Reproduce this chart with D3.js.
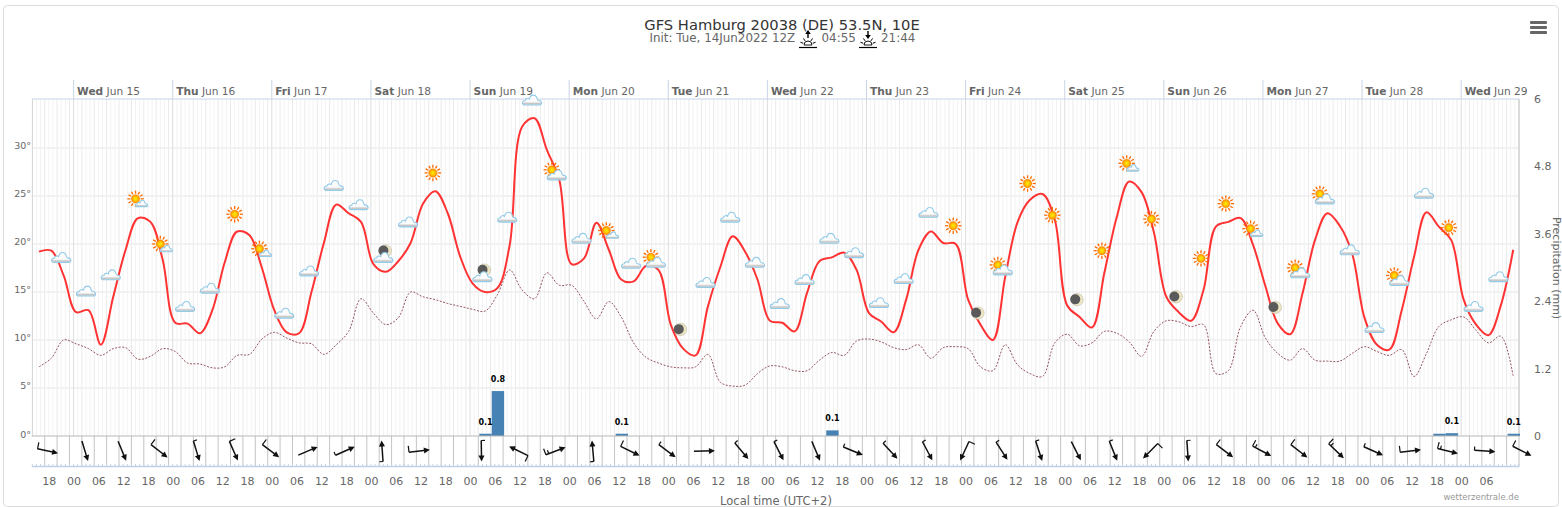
<!DOCTYPE html>
<html>
<head>
<meta charset="utf-8">
<script src="https://cdn.jsdelivr.net/npm/d3@7"></script>
<style>
  html, body { margin: 0; padding: 0; background: #fff; overflow: hidden; }
  text { font-family: "DejaVu Sans", sans-serif; }
</style>
</head>
<body>
<svg id="chart" width="1562" height="507"></svg>
<script>
// Hours are counted from Wed Jun 15 00:00 local time
const firstHour = -8.4;
const stepHours = 3;

const temperature = [
  19.2, 19.3, 16.7, 12.9, 13.1, 9.5, 14.5, 19.4, 22.7, 22.3,
  18.3, 11.8, 11.7, 10.7, 13.1, 18.1, 21.3, 20.9, 17.5, 13.1,
  10.8, 10.7, 15, 20.1, 24.1, 23.2, 22.3, 17.9, 17.1, 18.2,
  20.1, 24.2, 25.5, 23.2, 18.7, 15.9, 15, 15.4, 19.9, 32.2,
  33.1, 29.8, 26.7, 17.9, 18.5, 22.2, 19.4, 16.3, 16.1, 17.7,
  17.3, 11.6, 9.1, 8.4, 13.5, 17.6, 20.8, 19.2, 16.3, 12,
  11.8, 10.9, 14.9, 18.2, 18.6, 19.1, 17.3, 12.8, 11.9, 10.8,
  14.2, 19.4, 21.3, 20.1, 20, 14.2, 11.6, 10, 16.6, 22.3,
  24.6, 25.2, 22.5, 13.6, 12.4, 11.3, 17, 22.8, 26.5, 25.4,
  21.2, 14.5, 12.9, 12, 15.2, 21.8, 22.3, 22.7, 19.9, 15.6,
  11.7, 10.6, 14.9, 20.4, 23.2, 21.9, 19, 12.3, 9.5, 9,
  13.1, 18.7, 23.3, 21.8, 20.4, 14.2, 11.6, 10.5, 13.6, 19.4
];

const dewPoint = [
  7.2, 8.1, 10, 9.6, 9.1, 8.4, 9.1, 9.2, 8, 8.3,
  9.1, 8.8, 7.6, 7.5, 7.1, 7.2, 8.4, 8.5, 10.1, 10.8,
  10.2, 9.7, 9.6, 8.5, 9.5, 10.9, 14.3, 12.8, 11.6, 12.3,
  15, 14.5, 14.2, 13.8, 13.5, 13.2, 13, 14.7, 17.3, 15.2,
  14.3, 17, 15.7, 15.7, 14, 12.2, 14, 12.4, 9.7, 8.2,
  7.6, 7.2, 7.1, 7.2, 8.5, 5.6, 5.2, 5.3, 6.5, 7.3,
  7.2, 6.8, 6.8, 7.9, 8.7, 8.4, 9.9, 10.1, 9.8, 9.2,
  9, 9.5, 8.1, 9.2, 9.3, 9.1, 7.2, 6.8, 9.5, 7.4,
  6.5, 6.2, 9.7, 10.6, 9.4, 9.7, 10.9, 10.7, 9.8, 8.3,
  10.9, 12, 11.9, 11.4, 11.6, 6.5, 6.8, 11.4, 13.1, 10.2,
  8.6, 7.9, 9.1, 7.9, 7.8, 7.8, 8.6, 9.3, 8.8, 8.4,
  9, 6.2, 8.6, 11.4, 12.1, 12.4, 11, 9.7, 10.4, 6.2
];

const precipHours = [99.75, 102.75, 132.75, 183.75, 330.75, 333.75, 348.75];
const precipValues = [0.04, 0.8, 0.04, 0.1, 0.04, 0.05, 0.04];
const precipLabels = ["0.1", "0.8", "0.1", "0.1", "", "0.1", "0.1"];

// Weather symbols, one every 6 hours from hour -3 (index 16 has none)
const iconStartHour = -3;
const iconKinds = [
  "cloud", "cloud", "cloud", "sunS", "sunS", "cloud", "cloud", "sun", "sunS", "cloud",
  "cloud", "cloud", "cloud", "moonCloud", "cloud", "sun", "none", "moonCloud", "cloud", "cloud",
  "cloudSun", "cloud", "sunS", "cloud", "cloudSun", "moon", "cloud", "cloud", "cloud", "cloud",
  "cloud", "cloud", "cloud", "cloud", "cloud", "cloud", "sun", "moon", "cloudSun", "sun",
  "sun", "moon", "sun", "sunS", "sun", "moon", "sun", "sun", "sunS", "moon",
  "cloudSun", "cloudSun", "cloud", "cloud", "cloudSun", "cloud", "sun", "cloud", "cloud"
];
const iconTemps = [
  18.6, 15.1, 16.8, 24.7, 20, 13.5, 15.4, 23.1, 19.5, 12.8,
  17.2, 26.1, 24.1, 18.6, 22.3, 27.4, 0, 16.6, 22.8, 35,
  27.2, 20.6, 21.4, 18, 18.1, 11.1, 16, 22.8, 18.1, 13.8,
  16.3, 20.6, 19.1, 13.9, 16.4, 23.3, 21.9, 12.8, 17.3, 26.3,
  23, 14.2, 19.3, 28.4, 22.6, 14.5, 18.5, 24.2, 21.6, 13.4,
  17, 24.7, 19.4, 11.3, 16.2, 25.3, 21.7, 13.5, 16.6
];

// Wind arrows: centre hour, screen angle of travel, barbs (0 none, 1 short, 2 long, 3 long+short)
const windHours = [
  -6.25, 2.75, 11.75, 20.75, 29.75, 38.75, 47.75, 56.75, 65.75, 74.75, 83.75,
  98.75, 107.75, 116.75, 125.75, 134.75, 143.75, 152.75, 161.75, 170.75, 179.75,
  188.75, 197.75, 206.75, 215.75, 224.75, 233.75, 242.75, 251.75, 260.75, 269.75,
  278.75, 287.75, 296.75, 305.75, 314.75, 323.75, 332.75, 341.75, 350.75
];
const windAngles = [
  12, 73, 67.5, 38, 73, 66, 37, -23, -24, -94, -7,
  89, -154, -21, -95, 26, 37, -1, 50, 63, 67,
  22, 47, 62, 115, 57, 72, 63, 68, 135, 86,
  37, 28, 38, 44, 24, -7, 14, 4, 27
];
const windBarbs = [
  2, 0, 0, 2, 1, 2, 2, 0, 1, 1, 2,
  1, 2, 3, 1, 2, 1, 0, 1, 1, 0,
  1, 1, 1, 2, 1, 1, 0, 1, 2, 1,
  2, 3, 2, 3, 1, 2, 3, 1, 2
];

const dayNames = ["Wed", "Thu", "Fri", "Sat", "Sun", "Mon", "Tue", "Wed", "Thu", "Fri", "Sat", "Sun", "Mon", "Tue", "Wed"];
const dayDates = ["Jun 15", "Jun 16", "Jun 17", "Jun 18", "Jun 19", "Jun 20", "Jun 21", "Jun 22", "Jun 23", "Jun 24", "Jun 25", "Jun 26", "Jun 27", "Jun 28", "Jun 29"];
const tempTicks = [0, 5, 10, 15, 20, 25, 30];
const precipTicks = [0, 1.2, 2.4, 3.6, 4.8, 6];
const hourLabels = ["18", "00", "06", "12"];

const svg = d3.select("#chart");
const grey = "#666666";

// Scales
const x = d3.scaleLinear().domain([-10, 350]).range([32.3, 1519]);
const yTemp = d3.scaleLinear().domain([0, 35.1]).range([436, 99]);
const yPrecip = d3.scaleLinear().domain([0, 6]).range([436, 99]);

// Frame
svg.append("rect")
  .attr("x", 3.5).attr("y", 5.5)
  .attr("width", 1555).attr("height", 501)
  .attr("rx", 4)
  .attr("fill", "#fff")
  .attr("stroke", "#dcdcdc");

// Grid
const hourly = d3.range(-10, 351);
svg.append("g").selectAll("line")
  .data(hourly.filter(h => (h + 24) % 24 !== 0))
  .join("line")
  .attr("x1", d => x(d)).attr("x2", d => x(d))
  .attr("y1", 99).attr("y2", 436)
  .attr("stroke", d => ((d + 25) % 3 === 0 ? "#eaeaea" : "#f3f3f3"))
  .attr("stroke-width", 1);

svg.append("g").selectAll("line")
  .data(tempTicks.filter(d => d > 0))
  .join("line")
  .attr("x1", 32).attr("x2", 1519)
  .attr("y1", d => yTemp(d)).attr("y2", d => yTemp(d))
  .attr("stroke", "#eeeeee")
  .attr("stroke-width", 1.5);

const dayHours = dayNames.map((d, i) => i * 24);
svg.append("g").selectAll("line")
  .data(dayHours)
  .join("line")
  .attr("x1", d => x(d)).attr("x2", d => x(d))
  .attr("y1", 99).attr("y2", 436)
  .attr("stroke", "#dddddd");

// Top axis with the days
svg.append("line")
  .attr("x1", 32).attr("x2", 1519)
  .attr("y1", 99).attr("y2", 99)
  .attr("stroke", "#c8d4e6");
svg.append("g").selectAll("line")
  .data(dayHours)
  .join("line")
  .attr("x1", d => x(d)).attr("x2", d => x(d))
  .attr("y1", 80).attr("y2", 99)
  .attr("stroke", "#c8d4e6");

const dayLabel = svg.append("g").selectAll("text")
  .data(dayNames)
  .join("text")
  .attr("x", (d, i) => x(dayHours[i]) + 3.5)
  .attr("y", 95)
  .attr("font-size", 10.6)
  .attr("fill", grey);
dayLabel.append("tspan").attr("font-weight", "bold").text(d => d);
dayLabel.append("tspan").text((d, i) => " " + dayDates[i]);

// Plot borders
svg.append("line").attr("x1", 32.5).attr("x2", 32.5).attr("y1", 99).attr("y2", 436).attr("stroke", "#d8d8d8");
svg.append("line").attr("x1", 1519).attr("x2", 1519).attr("y1", 99).attr("y2", 466).attr("stroke", "#c0c0c0");

// Wind panel
svg.append("g").selectAll("line")
  .data(d3.range(-7, 350, 3))
  .join("line")
  .attr("x1", d => x(d)).attr("x2", d => x(d))
  .attr("y1", 436).attr("y2", 466)
  .attr("stroke", "#c4c4c4");
svg.append("g").selectAll("line")
  .data(hourly)
  .join("line")
  .attr("x1", d => x(d)).attr("x2", d => x(d))
  .attr("y1", 464).attr("y2", 467)
  .attr("stroke", "#c8d4e6");
svg.append("line").attr("x1", 32).attr("x2", 1519).attr("y1", 466.5).attr("y2", 466.5)
  .attr("stroke", "#c0d0e6").attr("stroke-width", 1.5);

// Precipitation bars
const barWidth = x(stepHours) - x(0);
svg.append("g").selectAll("rect")
  .data(precipValues)
  .join("rect")
  .attr("x", (d, i) => x(precipHours[i]) - barWidth / 2)
  .attr("width", barWidth)
  .attr("y", d => yPrecip(d))
  .attr("height", d => yPrecip(0) - yPrecip(d))
  .attr("fill", "#4682b4");

svg.append("line").attr("x1", 32).attr("x2", 1519).attr("y1", 436).attr("y2", 436)
  .attr("stroke", "#b8b8b8").attr("stroke-width", 1.2);

// Temperature and dew point
const lineOf = d3.line()
  .x((d, i) => x(firstHour + i * stepHours))
  .y(d => yTemp(d))
  .curve(d3.curveCatmullRom.alpha(0.5));

svg.append("path")
  .attr("d", lineOf(dewPoint))
  .attr("fill", "none")
  .attr("stroke", "#95565f")
  .attr("stroke-width", 1)
  .attr("stroke-dasharray", "2,1.5");

svg.append("path")
  .attr("d", lineOf(temperature))
  .attr("fill", "none")
  .attr("stroke", "#ff3333")
  .attr("stroke-width", 2);

// Symbols
const defs = svg.append("defs");
const sunGrad = defs.append("radialGradient").attr("id", "sunFill");
sunGrad.append("stop").attr("offset", "0%").attr("stop-color", "#ffee00");
sunGrad.append("stop").attr("offset", "60%").attr("stop-color", "#ffbe00");
sunGrad.append("stop").attr("offset", "100%").attr("stop-color", "#ff7a00");
const cloudGrad = defs.append("linearGradient").attr("id", "cloudFill").attr("x1", 0).attr("x2", 0).attr("y1", 0).attr("y2", 1);
cloudGrad.append("stop").attr("offset", "0%").attr("stop-color", "#ffffff");
cloudGrad.append("stop").attr("offset", "68%").attr("stop-color", "#fbfbfb");
cloudGrad.append("stop").attr("offset", "86%").attr("stop-color", "#c4c4c4");
cloudGrad.append("stop").attr("offset", "100%").attr("stop-color", "#dcdcdc");

function drawSun(g, cx, cy) {
  const s = g.append("g").attr("transform", `translate(${cx},${cy})`);
  s.selectAll("line")
    .data(d3.range(12))
    .join("line")
    .attr("x1", d => 5.2 * Math.cos(d * Math.PI / 6))
    .attr("y1", d => 5.2 * Math.sin(d * Math.PI / 6))
    .attr("x2", d => 8.2 * Math.cos(d * Math.PI / 6))
    .attr("y2", d => 8.2 * Math.sin(d * Math.PI / 6))
    .attr("stroke", "#ff6a00")
    .attr("stroke-width", 1.3);
  s.append("circle").attr("r", 4.2).attr("fill", "url(#sunFill)").attr("stroke", "#ff9000").attr("stroke-width", 0.5);
}

function drawCloud(g, cx, cy, k) {
  g.append("path")
    .attr("transform", `translate(${cx},${cy}) scale(${k})`)
    .attr("d", "M-7.5,5 C-10.5,5 -10.2,0.6 -6.8,0.6 C-6.4,-1.6 -3.8,-1.8 -2.6,-0.9 C-1.4,-6.2 4.4,-6.2 5.2,-0.8 C5.6,0.2 6,0.5 6.6,0.5 C10.2,0.5 10.6,5 7.5,5 Z")
    .attr("fill", "url(#cloudFill)")
    .attr("stroke", "#93cbe8")
    .attr("stroke-width", 1.1 / k);
}

function drawMoon(g, cx, cy) {
  g.append("circle").attr("cx", cx).attr("cy", cy).attr("r", 6.2).attr("fill", "#ece6c4").attr("stroke", "#b4b09a").attr("stroke-width", 0.5);
  g.append("circle").attr("cx", cx - 1.9).attr("cy", cy - 0.3).attr("r", 5).attr("fill", "#5a5a5a");
}

const icons = svg.append("g");
iconKinds.forEach((kind, i) => {
  if (kind === "none") return;
  const cx = x(iconStartHour + i * 6);
  const cy = yTemp(iconTemps[i]);
  const g = icons.append("g");
  if (kind === "cloud") drawCloud(g, cx, cy, 1);
  if (kind === "sun") drawSun(g, cx, cy);
  if (kind === "moon") drawMoon(g, cx, cy);
  if (kind === "sunS") { // sun with a small cloud
    drawSun(g, cx, cy);
    drawCloud(g, cx + 6, cy + 4.5, 0.65);
  }
  if (kind === "cloudSun") { // sun behind a large cloud
    drawSun(g, cx - 5, cy - 5);
    drawCloud(g, cx, cy, 1);
  }
  if (kind === "moonCloud") {
    drawMoon(g, cx + 2, cy - 6.5);
    drawCloud(g, cx, cy, 1);
  }
});

// Wind arrows
const arrowHalf = 10.5;
const arrowRow = 451;
const arrows = svg.append("g").selectAll("g")
  .data(windHours)
  .join("g")
  .attr("transform", (d, i) => `translate(${x(d)},${arrowRow}) rotate(${windAngles[i]})`)
  .attr("stroke", "#111111")
  .attr("fill", "#111111");
arrows.append("line")
  .attr("x1", -arrowHalf).attr("x2", arrowHalf - 2)
  .attr("stroke-width", 1.5);
arrows.append("path")
  .attr("d", `M${arrowHalf},0 L${arrowHalf - 6},-3 L${arrowHalf - 6},3 Z`)
  .attr("stroke", "none");
// long barb goes to the left of the travel direction, the short one next to it
arrows.filter((d, i) => windBarbs[i] >= 2).append("line")
  .attr("x1", -arrowHalf).attr("y1", 0)
  .attr("x2", -arrowHalf).attr("y2", -6.5)
  .attr("stroke-width", 1.2);
arrows.filter((d, i) => windBarbs[i] === 1).append("line")
  .attr("x1", -arrowHalf).attr("y1", 0)
  .attr("x2", -arrowHalf).attr("y2", -3.7)
  .attr("stroke-width", 1.2);
arrows.filter((d, i) => windBarbs[i] === 3).append("line")
  .attr("x1", -arrowHalf + 3).attr("y1", 0)
  .attr("x2", -arrowHalf + 3).attr("y2", -3.7)
  .attr("stroke-width", 1.2);

// Bar labels
svg.append("g").selectAll("text")
  .data(precipLabels)
  .join("text")
  .attr("x", (d, i) => x(precipHours[i]))
  .attr("y", (d, i) => yPrecip(precipValues[i]) - 9)
  .attr("text-anchor", "middle")
  .attr("font-size", 8)
  .attr("font-weight", "bold")
  .attr("fill", "#000")
  .text(d => d);

// Axis labels
svg.append("g").selectAll("text")
  .data(tempTicks)
  .join("text")
  .attr("x", 31)
  .attr("y", d => yTemp(d) + 1.5)
  .attr("text-anchor", "end")
  .attr("font-size", 9.5)
  .attr("fill", grey)
  .text(d => d + "°");

svg.append("g").selectAll("text")
  .data(precipTicks)
  .join("text")
  .attr("x", 1534)
  .attr("y", d => yPrecip(d) + 4)
  .attr("font-size", 11)
  .attr("fill", grey)
  .text(d => String(d));

svg.append("text")
  .attr("transform", "translate(1553,268) rotate(90)")
  .attr("text-anchor", "middle")
  .attr("font-size", 11)
  .attr("fill", grey)
  .text("Precipitation (mm)");

svg.append("g").selectAll("text")
  .data(d3.range(-6, 343, 6))
  .join("text")
  .attr("x", d => x(d) + 0.5)
  .attr("y", 485)
  .attr("text-anchor", "middle")
  .attr("font-size", 11)
  .attr("fill", grey)
  .text((d, i) => hourLabels[i % 4]);

svg.append("text")
  .attr("x", 776).attr("y", 505)
  .attr("text-anchor", "middle")
  .attr("font-size", 11.5)
  .attr("fill", grey)
  .text("Local time (UTC+2)");

svg.append("text")
  .attr("x", 1519).attr("y", 500)
  .attr("text-anchor", "end")
  .attr("font-size", 8.5)
  .attr("fill", "#999999")
  .text("wetterzentrale.de");

// Title
svg.append("text")
  .attr("x", 782).attr("y", 30)
  .attr("text-anchor", "middle")
  .attr("font-size", 14.7)
  .attr("fill", "#333333")
  .text("GFS Hamburg 20038 (DE) 53.5N, 10E");

const subtitle = [["Init: Tue, 14Jun2022 12Z", 649.5], ["04:55", 821.5], ["21:44", 881]];
svg.append("g").selectAll("text")
  .data(subtitle)
  .join("text")
  .attr("x", d => d[1])
  .attr("y", 42)
  .attr("font-size", 11.9)
  .attr("fill", grey)
  .text(d => d[0]);

// Sunrise and sunset marks next to the times
function sunMark(cx, up) {
  const g = svg.append("g").attr("transform", `translate(${cx},0)`).attr("stroke", "#000").attr("fill", "#000");
  g.append("line").attr("x1", -9).attr("x2", 9).attr("y1", 47.5).attr("y2", 47.5).attr("stroke-width", 1.2);
  g.append("path").attr("d", "M-4,45 A4,4 0 0 1 4,45 Z").attr("fill", "none").attr("stroke-width", 0.9);
  g.selectAll("line.ray")
    .data([-70, -35, 35, 70])
    .join("line")
    .attr("class", "ray")
    .attr("x1", d => 5 * Math.sin(d * Math.PI / 180))
    .attr("y1", d => 45 - 5 * Math.cos(d * Math.PI / 180))
    .attr("x2", d => 8 * Math.sin(d * Math.PI / 180))
    .attr("y2", d => 45 - 8 * Math.cos(d * Math.PI / 180))
    .attr("stroke-width", 1);
  g.append("line").attr("x1", 0).attr("x2", 0).attr("y1", 31).attr("y2", 38).attr("stroke-width", 1.4);
  g.append("path").attr("d", up ? "M-2.8,34 L0,30 L2.8,34 Z" : "M-2.8,35 L0,39 L2.8,35 Z").attr("stroke", "none");
}
sunMark(808, true);
sunMark(868, false);

// Menu button
svg.append("g").selectAll("rect")
  .data([21, 26, 31])
  .join("rect")
  .attr("x", 1530).attr("y", d => d)
  .attr("width", 17).attr("height", 3)
  .attr("rx", 1)
  .attr("fill", grey);
</script>
</body>
</html>
